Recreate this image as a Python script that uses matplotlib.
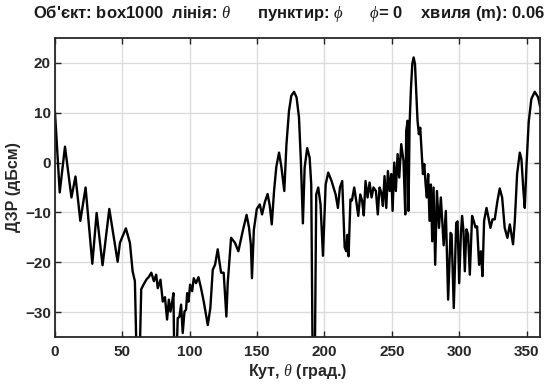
import matplotlib
matplotlib.use("Agg")
import matplotlib.pyplot as plt

plt.rcParams["font.family"] = ["Liberation Sans", "DejaVu Sans"]
plt.rcParams["mathtext.fontset"] = "custom"
plt.rcParams["mathtext.it"] = "Liberation Serif:italic"
plt.rcParams["mathtext.rm"] = "Liberation Sans"

# Radar cross-section pattern of the box target, phi = 0 cut
angle_deg = [
    0, 3.5, 7.4, 12.2, 15.2, 18.8, 22.7, 27.7, 30.9, 35.3, 40.3, 46.5, 48.2,
    52.6, 55.6, 57.6, 59.3, 60.8, 62.6, 64.0, 65.9, 68.0, 69.5, 71.5, 73.4,
    75.1, 76.3, 78.3, 80.0, 81.6, 83.2, 84.5, 85.7, 87.0, 87.9, 88.7, 89.9,
    91.1, 92.3, 93.6, 94.8, 96.1, 97.3, 98.1, 99.1, 100.3, 101.8, 103.0,
    104.7, 106.5, 108.4, 110.4, 113.4, 115.3, 117.1, 118.8, 120.8, 122.0,
    123.3, 125.2, 127.2, 128.2, 130.7, 133.6, 136.1, 139.3, 142.2, 144.0,
    145.4, 146.2, 147.6, 149.8, 152.0, 153.7, 155.8, 157.8, 159.4, 160.9,
    162.6, 164.3, 166.3, 168.0, 170.2, 171.8, 173.7, 175.4, 177.4, 179.3,
    181.1, 182.5, 184.0, 185.3, 187.2, 189.0, 190.2, 191.3, 192.8, 193.9,
    195.4, 197.1, 198.9, 200.9, 202.8, 205.3, 208.3, 210.0, 211.5, 213.2,
    215.0, 216.2, 217.0, 217.9, 219.3, 220.4, 222.1, 223.6, 225.1, 226.6,
    228.0, 229.2, 230.5, 232.0, 233.5, 235.0, 236.4, 238.2, 239.6, 240.9,
    242.2, 243.4, 244.6, 245.9, 247.1, 248.4, 249.6, 250.6, 251.8, 253.0,
    254.3, 255.5, 257.0, 258.7, 260.0, 260.7, 261.7, 262.4, 263.2, 264.2,
    265.2, 266.2, 267.2, 268.1, 269.1, 270.1, 271.1, 272.1, 273.1, 274.1,
    275.1, 276.0, 277.0, 278.0, 279.0, 280.0, 281.0, 282.2, 283.5, 285.0,
    286.4, 288.5, 290.1, 291.8, 293.6, 294.4, 296.0, 297.8, 298.8, 300.0,
    301.3, 302.2, 303.2, 304.2, 305.4, 306.6, 307.9, 309.6, 310.8, 312.1,
    313.3, 314.8, 316.1, 317.3, 318.5, 320.3, 321.5, 323.2, 324.7, 326.4,
    328.4, 330.1, 331.9, 333.8, 335.8, 337.6, 338.8, 340.0, 341.3, 343.0,
    345.0, 346.2, 347.7, 348.7, 349.9, 351.6, 353.6, 356.1, 358.6, 360.0,
]
rcs_dbsm = [
    10.0, -6.0, 3.2, -7.0, -2.8, -11.7, -5.0, -20.3, -10.1, -20.6, -9.3, -19.9, -16.1,
    -13.2, -16.1, -21.8, -23.8, -42.0, -42.0, -25.4, -24.4, -23.4, -23.0, -22.1, -23.8,
    -22.5, -25.2, -23.5, -27.9, -27.0, -31.5, -27.5, -29.9, -27.9, -26.2, -42.0, -42.0,
    -31.2, -31.0, -28.5, -34.2, -29.9, -29.5, -26.2, -27.9, -24.5, -25.8, -23.2,
    -24.2, -23.0, -25.2, -27.9, -32.6, -29.2, -21.5, -20.5, -17.4, -19.8,
    -22.1, -22.1, -30.9, -24.2, -15.1, -16.1, -17.8, -13.8, -10.5, -13.0,
    -16.5, -23.2, -13.5, -9.3, -8.4, -10.4, -7.9, -6.3, -8.6, -12.4,
    -5.7, -0.8, 2.0, -0.8, -5.7, 3.7, 10.4, 13.4, 14.2, 13.1,
    9.1, 0.3, -12.2, -1.0, 2.9, 1.0, -4.4, -42.0, -42.0, -6.4,
    -5.0, -8.4, -18.7, -4.4, -2.0, -3.7, -6.4, -9.1, -5.0, -3.7,
    -17.0, -17.8, -14.5, -18.8, -7.4, -7.6, -5.0, -7.7, -10.7, -6.4,
    -7.7, -10.6, -3.7, -7.0, -4.0, -7.0, -5.0, -5.7, -10.4, -5.0,
    -6.0, -8.7, -2.7, -9.1, -1.7, -5.7, -2.3, -9.7, 0.0, -5.7,
    1.7, -3.0, 3.7, 0.3, -10.4, 6.4, 8.4, -9.7, 7.7, 14.8,
    19.8, 21.1, 19.8, 14.4, 8.4, 5.7, 7.0, 2.3, -2.3, -0.3,
    -4.4, -7.0, -2.3, -11.7, -4.4, -15.8, -5.0, -20.5, -5.7, -13.1,
    -7.0, -16.6, -9.7, -27.5, -14.1, -14.4, -29.2, -12.1, -11.8, -24.2,
    -14.1, -10.7, -13.8, -21.8, -13.4, -14.4, -22.5, -10.7, -11.7, -13.0,
    -12.8, -20.5, -17.8, -22.8, -11.7, -9.1, -10.7, -13.1, -11.4, -11.4,
    -7.7, -5.2, -7.0, -13.1, -15.1, -12.4, -14.4, -16.4, -11.7, -2.3,
    2.0, 0.7, -5.7, -9.1, -1.0, 8.1, 12.8, 14.2, 13.1, 11.3,
]

x_ticks = [0, 50, 100, 150, 200, 250, 300, 350]
y_ticks = [-30, -20, -10, 0, 10, 20]

W, H = 557, 385
fig = plt.figure(figsize=(W / 100, H / 100), dpi=100)
ax = fig.add_axes([55 / W, 1 - 337 / H, 485 / W, 299 / H])

ax.plot(angle_deg, rcs_dbsm, color="black", linewidth=1.7, solid_joinstyle="round")

ax.set_xlim(0, 360)
ax.set_ylim(-35, 25)
ax.set_xticks(x_ticks)
ax.set_yticks(y_ticks)
ax.grid(True, color="#dcdcdc", linewidth=1.0)
ax.set_axisbelow(True)

for side in ax.spines.values():
    side.set_color("#262626")
    side.set_linewidth(1.3)

ax.tick_params(direction="in", length=4, width=1.0, color="#262626",
               top=True, right=True, labelsize=11, labelcolor="#262626")
ax.tick_params(axis="x", pad=6)
ax.tick_params(axis="y", pad=3)
for lbl in ax.get_xticklabels() + ax.get_yticklabels():
    lbl.set_fontweight("bold")

ax.set_xlabel(r"Кут, $\theta$ (град.)", fontsize=11.5, fontweight="bold",
              color="#262626", labelpad=2)
ax.set_ylabel("ДЗР (дБсм)", fontsize=11.5, fontweight="bold", color="#262626",
              labelpad=3)

fig.text(289 / W, 1 - 13 / H,
         r"Об'єкт: box1000  лінія: $\theta$      пунктир: $\phi$      $\phi$= 0    хвиля (m): 0.06",
         ha="center", va="center", fontsize=12, fontweight="bold", color="#1a1a1a")

fig.savefig("out.png", dpi=100)
